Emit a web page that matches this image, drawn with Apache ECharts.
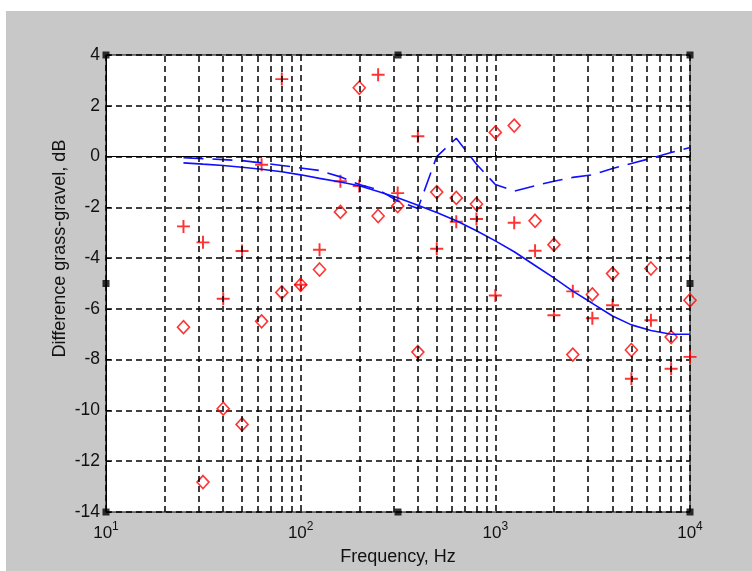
<!DOCTYPE html>
<html>
<head>
<meta charset="utf-8">
<script src="https://cdn.jsdelivr.net/npm/echarts@6/dist/echarts.min.js"></script>
<style>
  body { margin: 0; background: #fff; }
  #wrap { position: relative; width: 752px; height: 571px; background: #fff; overflow: hidden; }
  #chart { position: absolute; left: 6px; top: 11px; width: 746px; height: 560px; }
</style>
</head>
<body>
<div id="wrap"><div id="chart"></div></div>
<script>
// 1/3 octave band centre frequencies, Hz
const freqs = [25, 31.5, 40, 50, 63, 80, 100, 125, 160, 200, 250, 315, 400, 500, 630, 800, 1000, 1250, 1600, 2000, 2500, 3150, 4000, 5000, 6300, 8000, 10000];
// measured differences, dB
const plusData = [-2.75, -3.38, -5.6, -3.72, -0.32, 3.05, -5.05, -3.67, -0.97, -1.16, 3.22, -1.44, 0.8, -3.63, -2.57, -2.46, -5.47, -2.61, -3.71, -6.25, -5.31, -6.37, -5.86, -8.75, -6.45, -8.36, -7.89];
const diamondData = [-6.72, -12.82, -9.93, -10.55, -6.49, -5.35, -5.05, -4.45, -2.18, 2.71, -2.34, -1.95, -7.7, -1.4, -1.63, -1.87, 0.95, 1.22, -2.53, -3.47, -7.8, -5.43, -4.61, -7.62, -4.41, -7.11, -5.66];
// model curves, dB
const solidData = [-0.25, -0.3, -0.35, -0.42, -0.5, -0.6, -0.72, -0.86, -1.0, -1.15, -1.38, -1.62, -1.92, -2.2, -2.53, -2.92, -3.32, -3.75, -4.29, -4.78, -5.3, -5.78, -6.28, -6.63, -6.85, -7.0, -7.0];
const dashedData = [-0.05, -0.08, -0.12, -0.16, -0.25, -0.35, -0.45, -0.55, -0.8, -1.1, -1.3, -1.75, -2.05, 0.0, 0.72, -0.3, -1.1, -1.36, -1.15, -0.97, -0.82, -0.72, -0.47, -0.27, -0.07, 0.16, 0.36];
// minor log grid lines
const minorX = [20, 30, 40, 50, 60, 70, 80, 90, 200, 300, 400, 500, 600, 700, 800, 900, 2000, 3000, 4000, 5000, 6000, 7000, 8000, 9000];
// y ticks
const yMin = -14, yMax = 4, yStep = 2;
// figure handles (black squares on the box)
const handles = [[10, 4], [316.23, 4], [10000, 4], [10, -5], [10000, -5], [10, -14], [316.23, -14], [10000, -14]];

const pairs = (ys) => freqs.map((f, i) => [f, ys[i]]);
const dashBlack = { color: '#000', type: [6, 4], width: 1.5 };

var myChart = echarts.init(document.getElementById('chart'));
myChart.setOption({
  animation: false,
  backgroundColor: '#c8c8c8',
  textStyle: { fontFamily: 'Liberation Sans, Arial, sans-serif' },
  grid: {
    left: 100, right: 62, top: 44, bottom: 56,
    show: true, backgroundColor: '#fff', borderColor: '#000', borderWidth: 1
  },
  xAxis: {
    type: 'log', logBase: 10, min: 10, max: 10000,
    name: 'Frequency, Hz', nameLocation: 'middle', nameGap: 36,
    nameTextStyle: { fontSize: 18, color: '#111' },
    axisLine: { show: true, lineStyle: { color: '#000' } },
    axisTick: { inside: true, length: 5, lineStyle: { color: '#000' } },
    splitLine: { show: true, lineStyle: dashBlack },
    axisLabel: {
      margin: 9,
      formatter: function (v) {
        return '{b|10}{s|' + Math.round(Math.log10(v)) + '}';
      },
      rich: {
        b: { fontSize: 17, color: '#111' },
        s: { fontSize: 12, color: '#111', padding: [0, 0, 12, 0] }
      }
    }
  },
  yAxis: {
    type: 'value', min: yMin, max: yMax, interval: yStep,
    name: 'Difference grass-gravel, dB', nameLocation: 'middle', nameGap: 37,
    nameMoveOverlap: false,
    nameTextStyle: { fontSize: 18, color: '#111', padding: [0, 0, 0, 70] },
    axisLine: { show: true, lineStyle: { color: '#000' } },
    axisTick: { inside: true, length: 5, lineStyle: { color: '#000' } },
    splitLine: { show: true, lineStyle: dashBlack },
    axisLabel: { fontSize: 17.5, color: '#111', margin: 6 }
  },
  series: [
    {
      type: 'line',
      data: [],
      silent: true,
      markLine: {
        silent: true, symbol: 'none', label: { show: false },
        lineStyle: dashBlack,
        data: minorX.map(v => ({ xAxis: v }))
      }
    },
    {
      type: 'line', data: pairs(solidData), showSymbol: false,
      lineStyle: { color: '#1010ff', width: 1.6 }
    },
    {
      type: 'line', data: pairs(dashedData), showSymbol: false,
      lineStyle: { color: '#1010ff', width: 1.6, type: [20, 9] }
    },
    {
      type: 'scatter', data: pairs(plusData), clip: false,
      symbol: 'path://M5.1,0h1.8v5.1h5.1v1.8h-5.1v5.1h-1.8v-5.1h-5.1v-1.8h5.1z',
      symbolSize: 13,
      itemStyle: { color: '#ff0000' }
    },
    {
      type: 'scatter', data: pairs(diamondData), clip: false,
      symbol: 'diamond', symbolSize: [12, 13],
      itemStyle: { color: 'rgba(0,0,0,0)', borderColor: '#ff0000', borderWidth: 1.6 }
    },
    {
      type: 'scatter', data: handles, clip: false,
      symbol: 'rect', symbolSize: 7,
      itemStyle: { color: '#000' }, z: 5
    }
  ]
});
</script>
</body>
</html>
